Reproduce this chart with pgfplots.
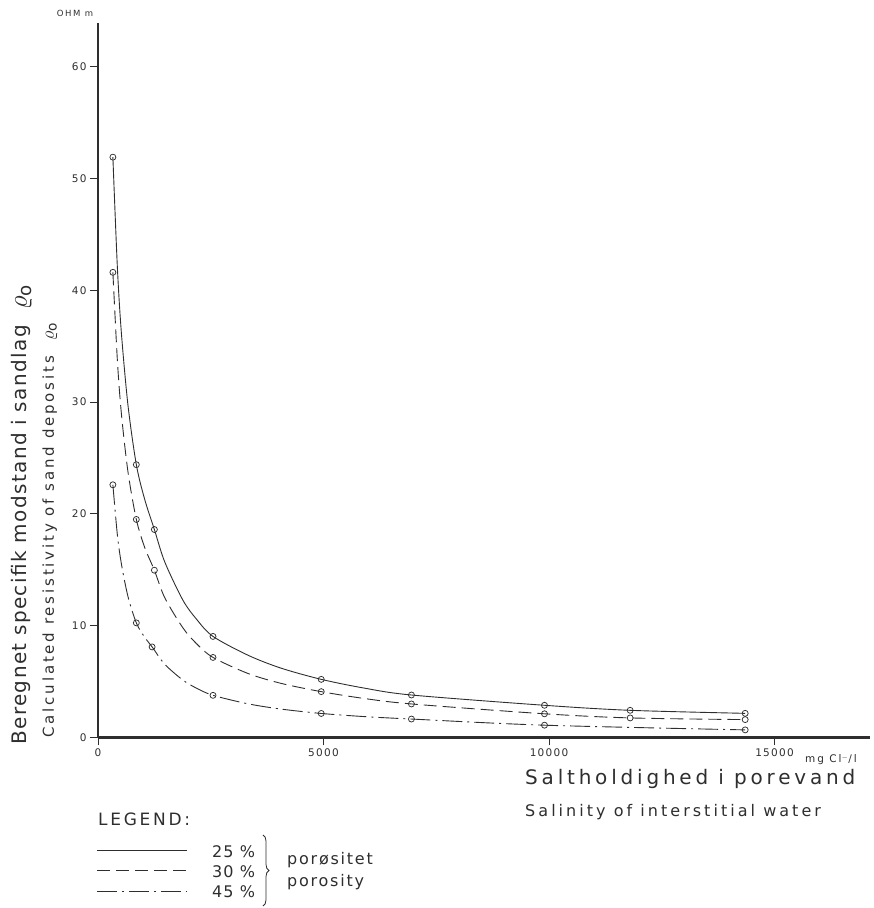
\documentclass[border=0pt]{standalone}
\usepackage{fontspec}
\setmainfont{DejaVu Sans}
\newfontfamily\lab[LetterSpace=7]{DejaVu Sans}
\newfontfamily\labx[LetterSpace=19]{DejaVu Sans}
\newfontfamily\labs[LetterSpace=19]{DejaVu Sans}
\newfontfamily\labl[LetterSpace=16]{DejaVu Sans}
\newfontfamily\labp[LetterSpace=11]{DejaVu Sans}
\newfontfamily\labt[LetterSpace=12]{DejaVu Sans}
\usepackage{pgfplots}
\pgfplotsset{compat=1.18}
\usetikzlibrary{decorations.pathreplacing}
\definecolor{ink}{HTML}{2E2E2E}
\begin{document}
\begin{tikzpicture}[x=1bp,y=1bp]
\path[use as bounding box] (0,0) rectangle (874,908);
\begin{axis}[
  at={(98bp,170.5bp)}, anchor=origin,
  scale only axis, width=772bp, height=714.5bp,
  xmin=0, xmax=17118, ymin=0, ymax=63.9,
  axis lines=left,
  axis line style={line width=2.2bp, draw=ink, -},
  xtick={0,5000,10000,15000},
  ytick={0,10,20,30,40,50,60},
  scaled x ticks=false,
  tick align=outside,
  major tick length=8bp,
  tick style={line width=0.9bp, draw=ink},
  /pgf/number format/assume math mode=true,
  /pgf/number format/.cd, set thousands separator={}, 1000 sep={},
  /pgfplots/.cd,
  ticklabel style={font=\labt\fontsize{10.5bp}{12bp}\selectfont, text=ink},
  clip=false,
]
% 25 %
\addplot[ink, line width=0.9bp, smooth, tension=0.5, no marks]
  coordinates {(330,51.9) (430,42.0) (520,36.1) (665,29.7) (850,24.4) (1035,21.3) (1250,18.6) (1480,15.7) (1880,12.3) (2180,10.6) (2550,9.04) (3330,7.35) (4060,6.2) (4950,5.2) (5900,4.42) (6950,3.8) (9900,2.88) (11800,2.43) (14350,2.16)};
\addplot[ink, only marks, mark=o, mark size=3bp, mark options={solid, fill=white, line width=0.75bp}]
  coordinates {(330,51.9) (850,24.4) (1250,18.6) (2550,9.04) (4950,5.2) (6950,3.8) (9900,2.88) (11800,2.43) (14350,2.16)};
% 30 %
\addplot[ink, line width=0.9bp, smooth, tension=0.5, no marks, dash pattern=on 13bp off 6bp]
  coordinates {(330,41.6) (430,33.7) (520,28.9) (665,23.75) (850,19.5) (1035,17.0) (1250,14.96) (1480,12.5) (1880,9.82) (2180,8.41) (2550,7.16) (3330,5.72) (4060,4.84) (4950,4.1) (5900,3.49) (6950,3.0) (9900,2.12) (11800,1.75) (14350,1.6)};
\addplot[ink, only marks, mark=o, mark size=3bp, mark options={solid, fill=white, line width=0.75bp}]
  coordinates {(330,41.6) (850,19.5) (1250,14.96) (2550,7.16) (4950,4.1) (6950,3.0) (9900,2.12) (11800,1.75) (14350,1.6)};
% 45 %
\addplot[ink, line width=0.9bp, smooth, tension=0.5, no marks, dash pattern=on 20bp off 5bp on 2bp off 5bp]
  coordinates {(330,22.6) (430,18.1) (520,15.5) (665,12.6) (850,10.25) (1020,9.05) (1200,8.1) (1480,6.55) (1880,5.14) (2180,4.42) (2550,3.77) (3330,3.01) (4060,2.54) (4950,2.15) (5900,1.87) (6950,1.65) (9900,1.1) (14350,0.68)};
\addplot[ink, only marks, mark=o, mark size=3bp, mark options={solid, fill=white, line width=0.75bp}]
  coordinates {(330,22.6) (850,10.25) (1200,8.1) (2550,3.77) (4950,2.15) (6950,1.65) (9900,1.1) (14350,0.68)};
\end{axis}
% axis annotations
\node[anchor=base west, inner sep=0, text=ink, font=\labx\fontsize{10.5bp}{12bp}\selectfont] at (805,145) {mg Cl$^{-}$/l};
\node[anchor=center, inner sep=0, text=ink, font=\labx\fontsize{8.5bp}{10bp}\selectfont] at (75,895) {OHM m};
\node[rotate=90, anchor=west, inner sep=0, text=ink, font=\lab\fontsize{20bp}{22bp}\selectfont] at (22,163) {Beregnet specifik modstand i sandlag \ \scalebox{1.3}{$\varrho_{\mathrm{o}}$}};
\node[rotate=90, anchor=west, inner sep=0, text=ink, font=\labs\fontsize{15bp}{17bp}\selectfont] at (50,170) {Calculated resistivity of sand deposits \ \scalebox{1.3}{$\varrho_{\mathrm{o}}$}};
\node[anchor=base west, inner sep=0, text=ink, font=\labx\fontsize{20bp}{22bp}\selectfont] at (525,123) {Saltholdighed i porevand};
\node[anchor=base west, inner sep=0, text=ink, font=\labs\fontsize{16bp}{18bp}\selectfont] at (525,91) {Salinity of interstitial water};
% legend
\node[anchor=base west, inner sep=0, text=ink, font=\labl\fontsize{17bp}{19bp}\selectfont] at (98,82) {LEGEND:};
\draw[ink, line width=0.9bp] (97,58) -- (187,58);
\draw[ink, line width=0.9bp, dash pattern=on 13bp off 6bp] (97,38) -- (187,38);
\draw[ink, line width=0.9bp, dash pattern=on 20bp off 5bp on 2bp off 5bp] (97,17) -- (187,17);
\node[anchor=base west, inner sep=0, text=ink, font=\lab\fontsize{16bp}{18bp}\selectfont] at (212,50) {25 \%};
\node[anchor=base west, inner sep=0, text=ink, font=\lab\fontsize{16bp}{18bp}\selectfont] at (212,30) {30 \%};
\node[anchor=base west, inner sep=0, text=ink, font=\lab\fontsize{16bp}{18bp}\selectfont] at (212,10) {45 \%};
\draw[ink, line width=0.8bp, decorate, decoration={brace, amplitude=6bp}] (263,73) -- (263,2);
\node[anchor=base west, inner sep=0, text=ink, font=\labp\fontsize{16bp}{18bp}\selectfont] at (287,43) {porøsitet};
\node[anchor=base west, inner sep=0, text=ink, font=\labp\fontsize{16bp}{18bp}\selectfont] at (287,21) {porosity};
\end{tikzpicture}
\end{document}
